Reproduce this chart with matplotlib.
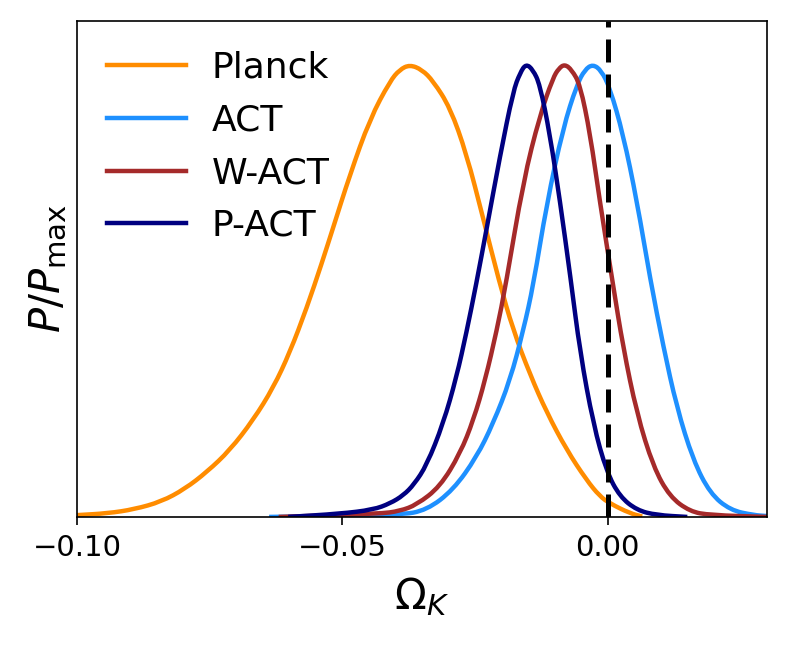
import matplotlib
matplotlib.use("Agg")
import matplotlib.pyplot as plt
from matplotlib.path import Path
from matplotlib.patches import PathPatch
from matplotlib.lines import Line2D

# ---- data (Omega_K, P/Pmax) ----
planck_x = [-0.1000, -0.0942, -0.0892, -0.0841, -0.0797, -0.0755, -0.0712, -0.0668,
            -0.0630, -0.0599, -0.0567, -0.0539, -0.0517, -0.0486, -0.0448, -0.0410,
            -0.0392, -0.0373, -0.0350, -0.0329, -0.0297, -0.0266, -0.0235, -0.0205,
            -0.0178, -0.0146, -0.0115, -0.0077, -0.0040, -0.0015, 0.0004, 0.0042, 0.0065]
planck_y = [0.004, 0.008, 0.017, 0.034, 0.062, 0.100, 0.148, 0.215,
            0.287, 0.365, 0.464, 0.562, 0.643, 0.758, 0.883, 0.967,
            0.992, 1.003, 0.992, 0.967, 0.908, 0.805, 0.664, 0.524,
            0.414, 0.315, 0.232, 0.148, 0.082, 0.046, 0.030, 0.008, 0.001]

act_x = [-0.0638, -0.0392, -0.0341, -0.0291, -0.0247, -0.0216, -0.0184, -0.0159,
         -0.0140, -0.0115, -0.0084, -0.0058, -0.0043, -0.0028, -0.0012, 0.0004,
         0.0029, 0.0055, 0.0080, 0.0105, 0.0130, 0.0161, 0.0193, 0.0231, 0.0275, 0.0300]
act_y = [0.000, 0.004, 0.015, 0.060, 0.133, 0.207, 0.303, 0.414,
         0.515, 0.694, 0.863, 0.959, 0.992, 1.004, 0.990, 0.952,
         0.849, 0.701, 0.528, 0.377, 0.244, 0.126, 0.052, 0.015, 0.004, 0.002]

wact_x = [-0.0620, -0.0430, -0.0392, -0.0360, -0.0316, -0.0278, -0.0253, -0.0231,
          -0.0209, -0.0192, -0.0159, -0.0128, -0.0103, -0.0092, -0.0081, -0.0068,
          -0.0052, -0.0033, -0.0015, 0.0010, 0.0029, 0.0055, 0.0086, 0.0117,
          0.0155, 0.0193, 0.0300]
wact_y = [0.000, 0.007, 0.013, 0.027, 0.067, 0.141, 0.215, 0.303,
          0.414, 0.515, 0.745, 0.890, 0.974, 0.995, 1.004, 0.992,
          0.959, 0.849, 0.701, 0.515, 0.377, 0.229, 0.111, 0.045,
          0.012, 0.004, 0.000]

pact_x = [-0.0602, -0.0505, -0.0442, -0.0410, -0.0385, -0.0365, -0.0341, -0.0310,
          -0.0285, -0.0266, -0.0248, -0.0228, -0.0203, -0.0178, -0.0165, -0.0154,
          -0.0141, -0.0128, -0.0109, -0.0090, -0.0070, -0.0052, -0.0027, -0.0002,
          0.0023, 0.0055, 0.0092, 0.0150]
pact_y = [0.000, 0.007, 0.016, 0.030, 0.048, 0.072, 0.115, 0.207,
          0.310, 0.410, 0.515, 0.640, 0.800, 0.945, 0.985, 1.005,
          0.992, 0.960, 0.849, 0.701, 0.530, 0.365, 0.205, 0.100,
          0.045, 0.015, 0.004, 0.000]

labels = ["Planck", "ACT", "W-ACT", "P-ACT"]
colors = ["#FF8C00", "#1E90FF", "#A52A2A", "#000080"]
xticks = [-0.10, -0.05, 0.00]
xtick_labels = ["\u22120.10", "\u22120.05", "0.00"]

LW = 3.2


def smooth_path(xs, ys):
    """Quadratic-Bezier rendering through midpoints of the read points."""
    pts = list(zip(xs, ys))
    verts = [pts[0]]
    codes = [Path.MOVETO]
    mid = ((pts[0][0] + pts[1][0]) / 2, (pts[0][1] + pts[1][1]) / 2)
    verts.append(mid)
    codes.append(Path.LINETO)
    for i in range(1, len(pts) - 1):
        nxt = ((pts[i][0] + pts[i + 1][0]) / 2, (pts[i][1] + pts[i + 1][1]) / 2)
        verts += [pts[i], nxt]
        codes += [Path.CURVE3, Path.CURVE3]
    verts.append(pts[-1])
    codes.append(Path.LINETO)
    return Path(verts, codes)


fig = plt.figure(figsize=(7.89, 6.56), dpi=100)
ax = fig.add_axes([0.0976, 0.212, 0.8744, 0.756])

series = [(planck_x, planck_y), (act_x, act_y), (wact_x, wact_y), (pact_x, pact_y)]
handles = []
for (xs, ys), lab, col in zip(series, labels, colors):
    patch = PathPatch(smooth_path(xs, ys), facecolor="none", edgecolor=col,
                      lw=LW, capstyle="butt", joinstyle="round")
    ax.add_patch(patch)
    handles.append(Line2D([], [], color=col, lw=LW, label=lab))

ax.axvline(0.0, color="black", lw=3.6, linestyle=(0, (4.6, 2.4)), zorder=5)

ax.set_xlim(-0.10, 0.03)
ax.set_ylim(0, 1.1)
ax.set_yticks([])
ax.set_xticks(xticks)
ax.set_xticklabels(xtick_labels)
ax.tick_params(axis="x", labelsize=21, length=6, width=1.2, pad=6)
for s in ax.spines.values():
    s.set_linewidth(1.2)

ax.set_xlabel(r"$\Omega_K$", fontsize=30, labelpad=10)
ax.set_ylabel(r"$P/P_{\rm max}$", fontsize=30, labelpad=6)

ax.legend(handles=handles, loc="upper left", frameon=False, fontsize=26,
          handlelength=2.2, labelspacing=0.52, handletextpad=0.7,
          borderaxespad=0.42)

fig.savefig("out.png", dpi=100)
